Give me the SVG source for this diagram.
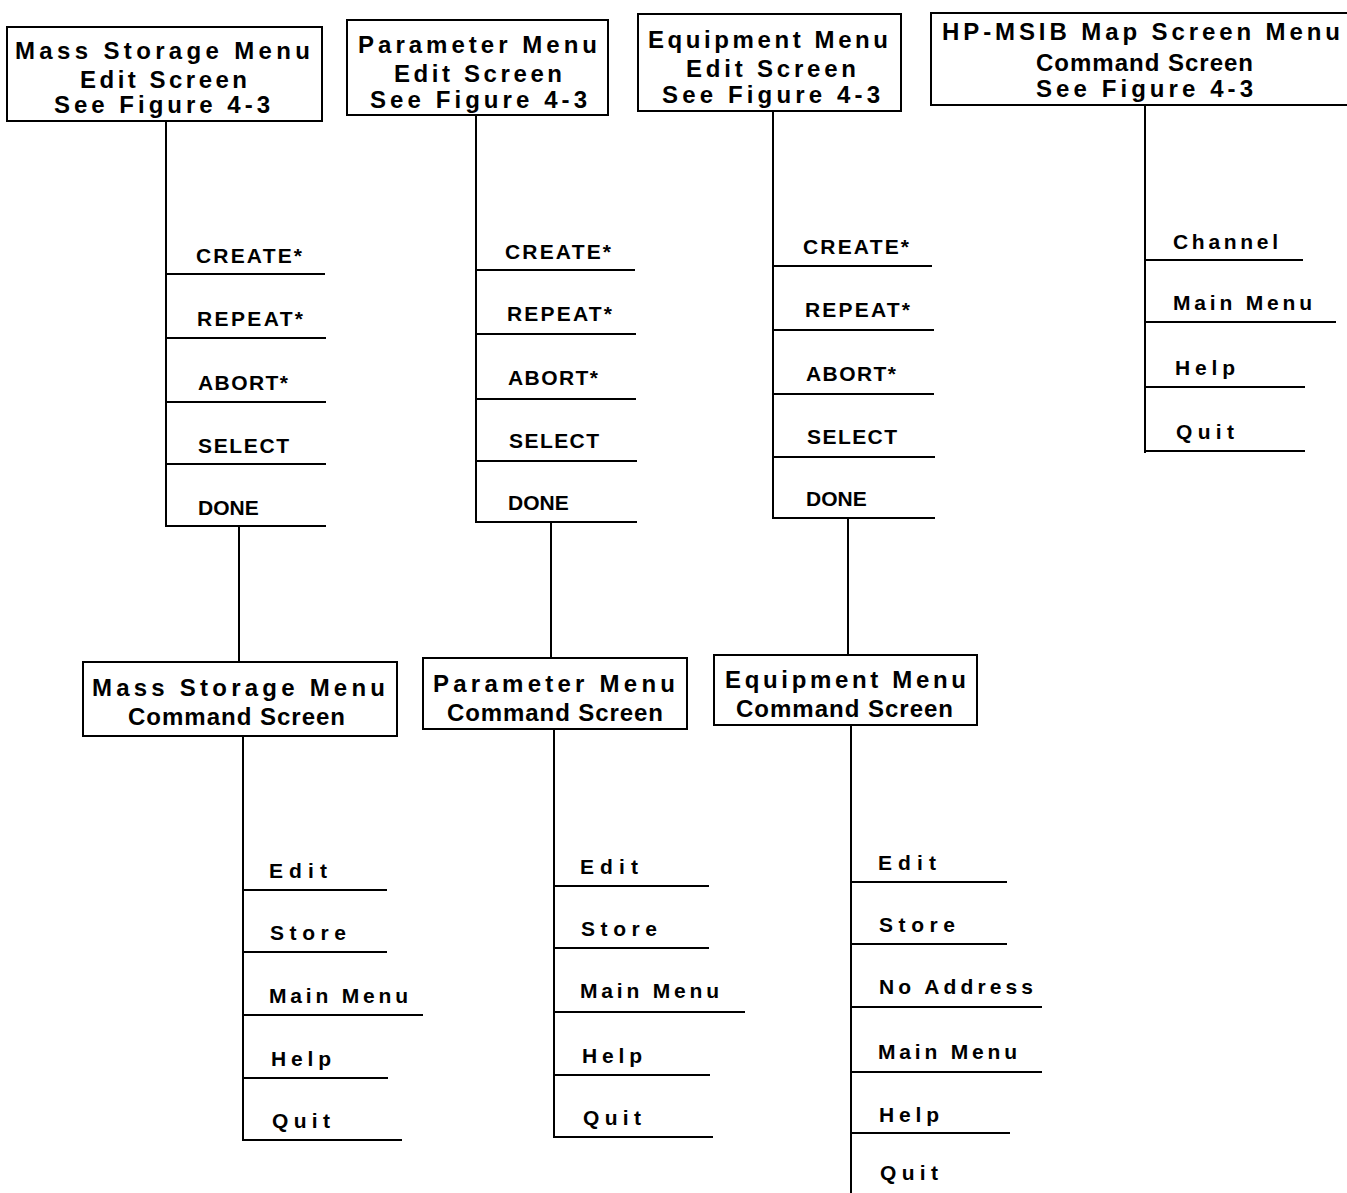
<svg xmlns="http://www.w3.org/2000/svg" width="1347" height="1193" viewBox="0 0 1347 1193">
<style>
.bg{fill:#fff}
.box{fill:#fff;stroke:#000;stroke-width:2}
.ln{stroke:#000;stroke-width:2;fill:none}
.t{font-family:"Liberation Sans",Arial,sans-serif;font-weight:bold;font-size:24px;fill:#000}
.i{font-family:"Liberation Sans",Arial,sans-serif;font-weight:bold;font-size:21px;fill:#000}
</style>
<rect class="bg" x="0" y="0" width="1347" height="1193"/>
<g id="connectors">
<path class="ln" d="M166,121 V527 M239,527 V662 M243,736 V1141"/>
<path class="ln" d="M476,115 V523 M551,523 V658 M554,729 V1138"/>
<path class="ln" d="M773,111 V519 M848,519 V655 M851,725 V1193"/>
<path class="ln" d="M1145,105 V453"/>
</g>
<g id="ms-edit">
<rect class="box" x="7" y="27" width="315" height="94"/>
<text class="t" x="15" y="59" textLength="295" lengthAdjust="spacing">Mass Storage Menu</text>
<text class="t" x="80" y="88" textLength="167" lengthAdjust="spacing">Edit Screen</text>
<text class="t" x="54" y="113" textLength="216" lengthAdjust="spacing">See Figure 4-3</text>
</g>
<g id="par-edit">
<rect class="box" x="347" y="20" width="261" height="95"/>
<text class="t" x="358" y="53" textLength="239" lengthAdjust="spacing">Parameter Menu</text>
<text class="t" x="394" y="82" textLength="168" lengthAdjust="spacing">Edit Screen</text>
<text class="t" x="370" y="108" textLength="217" lengthAdjust="spacing">See Figure 4-3</text>
</g>
<g id="eq-edit">
<rect class="box" x="638" y="14" width="263" height="97"/>
<text class="t" x="648" y="48" textLength="240" lengthAdjust="spacing">Equipment Menu</text>
<text class="t" x="686" y="77" textLength="170" lengthAdjust="spacing">Edit Screen</text>
<text class="t" x="662" y="103" textLength="218" lengthAdjust="spacing">See Figure 4-3</text>
</g>
<g id="hp-msib">
<path class="ln" d="M1347,13 H931 V105 H1347"/>
<text class="t" x="942" y="40" textLength="398" lengthAdjust="spacing">HP-MSIB Map Screen Menu</text>
<text class="t" x="1036" y="71" textLength="217" lengthAdjust="spacing">Command Screen</text>
<text class="t" x="1036" y="97" textLength="217" lengthAdjust="spacing">See Figure 4-3</text>
</g>
<g id="ms-cmd">
<rect class="box" x="83" y="662" width="314" height="74"/>
<text class="t" x="92" y="696" textLength="293" lengthAdjust="spacing">Mass Storage Menu</text>
<text class="t" x="128" y="725" textLength="217" lengthAdjust="spacing">Command Screen</text>
</g>
<g id="par-cmd">
<rect class="box" x="423" y="658" width="264" height="71"/>
<text class="t" x="433" y="692" textLength="242" lengthAdjust="spacing">Parameter Menu</text>
<text class="t" x="447" y="721" textLength="216" lengthAdjust="spacing">Command Screen</text>
</g>
<g id="eq-cmd">
<rect class="box" x="714" y="655" width="263" height="70"/>
<text class="t" x="725" y="688" textLength="241" lengthAdjust="spacing">Equipment Menu</text>
<text class="t" x="736" y="717" textLength="217" lengthAdjust="spacing">Command Screen</text>
</g>
<g id="ms-edit-items">
<g id="ms-create"><text class="i" x="196" y="263" textLength="106" lengthAdjust="spacing">CREATE*</text><path class="ln" d="M166,274 H325"/></g>
<g id="ms-repeat"><text class="i" x="197" y="326" textLength="106" lengthAdjust="spacing">REPEAT*</text><path class="ln" d="M166,338 H326"/></g>
<g id="ms-abort"><text class="i" x="198" y="390" textLength="90" lengthAdjust="spacing">ABORT*</text><path class="ln" d="M166,402 H326"/></g>
<g id="ms-select"><text class="i" x="198" y="453" textLength="91" lengthAdjust="spacing">SELECT</text><path class="ln" d="M166,464 H326"/></g>
<g id="ms-done"><text class="i" x="198" y="515">DONE</text><path class="ln" d="M166,526 H326"/></g>
</g>
<g id="par-edit-items">
<g id="par-create"><text class="i" x="505" y="259" textLength="106" lengthAdjust="spacing">CREATE*</text><path class="ln" d="M476,270 H635"/></g>
<g id="par-repeat"><text class="i" x="507" y="321" textLength="105" lengthAdjust="spacing">REPEAT*</text><path class="ln" d="M476,334 H636"/></g>
<g id="par-abort"><text class="i" x="508" y="385" textLength="90" lengthAdjust="spacing">ABORT*</text><path class="ln" d="M476,399 H636"/></g>
<g id="par-select"><text class="i" x="509" y="448" textLength="90" lengthAdjust="spacing">SELECT</text><path class="ln" d="M476,461 H637"/></g>
<g id="par-done"><text class="i" x="508" y="510">DONE</text><path class="ln" d="M476,522 H637"/></g>
</g>
<g id="eq-edit-items">
<g id="eq-create"><text class="i" x="803" y="254" textLength="106" lengthAdjust="spacing">CREATE*</text><path class="ln" d="M773,266 H932"/></g>
<g id="eq-repeat"><text class="i" x="805" y="317" textLength="105" lengthAdjust="spacing">REPEAT*</text><path class="ln" d="M773,330 H934"/></g>
<g id="eq-abort"><text class="i" x="806" y="381" textLength="90" lengthAdjust="spacing">ABORT*</text><path class="ln" d="M773,394 H934"/></g>
<g id="eq-select"><text class="i" x="807" y="444" textLength="90" lengthAdjust="spacing">SELECT</text><path class="ln" d="M773,457 H935"/></g>
<g id="eq-done"><text class="i" x="806" y="506">DONE</text><path class="ln" d="M773,518 H935"/></g>
</g>
<g id="hp-items">
<g id="hp-channel"><text class="i" x="1173" y="249" textLength="105" lengthAdjust="spacing">Channel</text><path class="ln" d="M1145,260 H1303"/></g>
<g id="hp-main"><text class="i" x="1173" y="310" textLength="139" lengthAdjust="spacing">Main Menu</text><path class="ln" d="M1145,322 H1336"/></g>
<g id="hp-help"><text class="i" x="1175" y="375" textLength="60" lengthAdjust="spacing">Help</text><path class="ln" d="M1145,387 H1305"/></g>
<g id="hp-quit"><text class="i" x="1176" y="439" textLength="58" lengthAdjust="spacing">Quit</text><path class="ln" d="M1145,451 H1305"/></g>
</g>
<g id="ms-cmd-items">
<g id="ms-edit-i"><text class="i" x="269" y="878" textLength="58" lengthAdjust="spacing">Edit</text><path class="ln" d="M243,890 H387"/></g>
<g id="ms-store"><text class="i" x="270" y="940" textLength="76" lengthAdjust="spacing">Store</text><path class="ln" d="M243,952 H387"/></g>
<g id="ms-main"><text class="i" x="269" y="1003" textLength="139" lengthAdjust="spacing">Main Menu</text><path class="ln" d="M243,1015 H423"/></g>
<g id="ms-help"><text class="i" x="271" y="1066" textLength="60" lengthAdjust="spacing">Help</text><path class="ln" d="M243,1078 H388"/></g>
<g id="ms-quit"><text class="i" x="272" y="1128" textLength="58" lengthAdjust="spacing">Quit</text><path class="ln" d="M243,1140 H402"/></g>
</g>
<g id="par-cmd-items">
<g id="par-edit-i"><text class="i" x="580" y="874" textLength="58" lengthAdjust="spacing">Edit</text><path class="ln" d="M554,886 H709"/></g>
<g id="par-store"><text class="i" x="581" y="936" textLength="76" lengthAdjust="spacing">Store</text><path class="ln" d="M554,948 H709"/></g>
<g id="par-main"><text class="i" x="580" y="998" textLength="139" lengthAdjust="spacing">Main Menu</text><path class="ln" d="M554,1012 H745"/></g>
<g id="par-help"><text class="i" x="582" y="1063" textLength="60" lengthAdjust="spacing">Help</text><path class="ln" d="M554,1075 H710"/></g>
<g id="par-quit"><text class="i" x="583" y="1125" textLength="58" lengthAdjust="spacing">Quit</text><path class="ln" d="M554,1137 H713"/></g>
</g>
<g id="eq-cmd-items">
<g id="eq-edit-i"><text class="i" x="878" y="870" textLength="58" lengthAdjust="spacing">Edit</text><path class="ln" d="M851,882 H1007"/></g>
<g id="eq-store"><text class="i" x="879" y="932" textLength="76" lengthAdjust="spacing">Store</text><path class="ln" d="M851,944 H1007"/></g>
<g id="eq-noaddr"><text class="i" x="879" y="994" textLength="154" lengthAdjust="spacing">No Address</text><path class="ln" d="M851,1007 H1042"/></g>
<g id="eq-main"><text class="i" x="878" y="1059" textLength="139" lengthAdjust="spacing">Main Menu</text><path class="ln" d="M851,1072 H1042"/></g>
<g id="eq-help"><text class="i" x="879" y="1122" textLength="60" lengthAdjust="spacing">Help</text><path class="ln" d="M851,1133 H1010"/></g>
<g id="eq-quit"><text class="i" x="880" y="1180" textLength="58" lengthAdjust="spacing">Quit</text></g>
</g>
</svg>
